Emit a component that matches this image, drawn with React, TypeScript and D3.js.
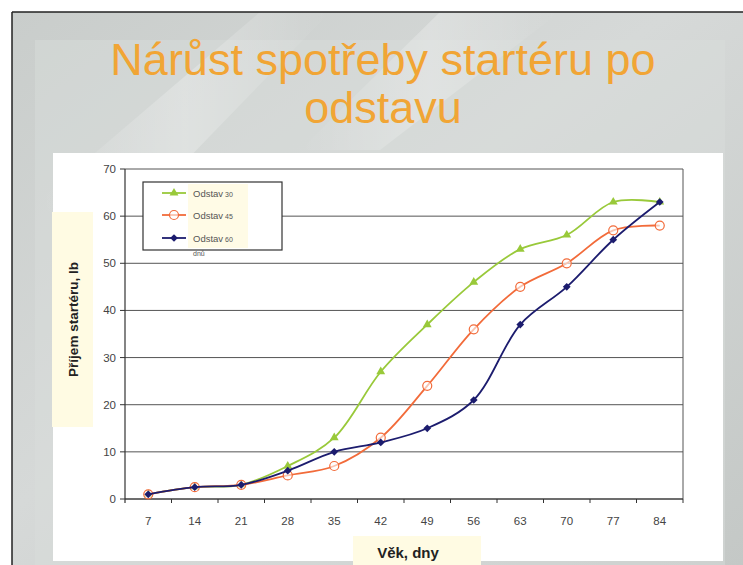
import React from 'react';
import * as d3 from 'd3';

// Věk (dny)
const days = ['7', '14', '21', '28', '35', '42', '49', '56', '63', '70', '77', '84'];
const yTicks = [0, 10, 20, 30, 40, 50, 60, 70];

// Příjem startéru (lb)
const odstav30 = [1, 2.5, 3, 7, 13, 27, 37, 46, 53, 56, 63, 63];
const odstav45 = [1, 2.5, 3, 5, 7, 13, 24, 36, 45, 50, 57, 58];
const odstav60 = [1, 2.5, 3, 6, 10, 12, 15, 21, 37, 45, 55, 63];

const seriesNames = ['Odstav 30', 'Odstav 45', 'Odstav 60'];

const W = 743;
const H = 565;
const plot = { left: 125, right: 683, top: 169, bottom: 499 };
const font = '"Liberation Sans", Arial, sans-serif';

export default function App() {
  const x = d3.scaleBand<string>().domain(days).range([plot.left, plot.right]);
  const y = d3.scaleLinear().domain([0, 70]).range([plot.bottom, plot.top]);
  const cx = (d: string) => (x(d) ?? 0) + x.bandwidth() / 2;

  const line = d3
    .line<number>()
    .x((_, i) => cx(days[i]))
    .y(v => y(v))
    .curve(d3.curveCatmullRom.alpha(0.5));

  const series = [
    { name: seriesNames[0], values: odstav30, color: '#99c93a', marker: 'triangle' },
    { name: seriesNames[1], values: odstav45, color: '#f26b3a', marker: 'circle' },
    { name: seriesNames[2], values: odstav60, color: '#1c1c6e', marker: 'diamond' },
  ];

  const marker = (kind: string, px: number, py: number, color: string, key: string) => {
    if (kind === 'triangle') {
      const p = d3.symbol(d3.symbolTriangle, 34)();
      return <path key={key} d={p ?? ''} transform={`translate(${px},${py})`} fill={color} />;
    }
    if (kind === 'circle') {
      return <circle key={key} cx={px} cy={py} r={4.5} fill="#fff" fillOpacity={0.6} stroke={color} strokeWidth={1.2} />;
    }
    const p = d3.symbol(d3.symbolSquare, 30)();
    return <path key={key} d={p ?? ''} transform={`translate(${px},${py}) rotate(45)`} fill={color} />;
  };

  const legendY = [193, 215, 238];

  return (
    <svg width={W} height={H} style={{ position: 'absolute', left: 0, top: 0 }} fontFamily={font}>
      <defs>
        <linearGradient id="bg" x1="0" y1="0" x2="1" y2="1">
          <stop offset="0" stopColor="#c9cdcb" />
          <stop offset="0.45" stopColor="#d6d9d8" />
          <stop offset="1" stopColor="#c4c8c6" />
        </linearGradient>
        <linearGradient id="streak" x1="0" y1="0" x2="1" y2="0">
          <stop offset="0" stopColor="#ffffff" stopOpacity={0} />
          <stop offset="0.5" stopColor="#ffffff" stopOpacity={0.25} />
          <stop offset="1" stopColor="#ffffff" stopOpacity={0} />
        </linearGradient>
      </defs>
      <rect x={0} y={0} width={W} height={H} fill="#fff" />
      <rect x={12} y={12} width={W - 12} height={H - 12} fill="url(#bg)" />
      <rect x={35} y={40} width={690} height={H - 40} fill="#dadddc" opacity={0.45} />
      <path d="M 40 200 L 260 12 L 330 12 L 90 260 Z" fill="url(#streak)" />
      <path d="M 440 12 L 560 12 L 380 150 L 300 150 Z" fill="url(#streak)" />
      <line x1={12} y1={12} x2={W} y2={12} stroke="#222" strokeWidth={1.5} />
      <line x1={12} y1={12} x2={12} y2={H} stroke="#222" strokeWidth={1.5} />

      {/* title */}
      <text x={383} y={75} textAnchor="middle" fontSize={45} fill="#f1a535">
        Nárůst spotřeby startéru po
      </text>
      <text x={383} y={123} textAnchor="middle" fontSize={45} fill="#f1a535">
        odstavu
      </text>

      {/* white chart panel */}
      <rect x={53} y={153} width={670} height={408} fill="#ffffff" />

      {/* gridlines */}
      {yTicks.map(t => (
        <line key={`g${t}`} x1={plot.left} x2={plot.right} y1={y(t)} y2={y(t)} stroke="#555" strokeWidth={1} />
      ))}
      <line x1={plot.right} x2={plot.right} y1={plot.top} y2={plot.bottom} stroke="#555" strokeWidth={1} />

      {/* y axis */}
      <line x1={plot.left} x2={plot.left} y1={plot.top} y2={plot.bottom + 4} stroke="#333" strokeWidth={1.2} />
      {yTicks.map(t => (
        <g key={`y${t}`}>
          <line x1={plot.left - 5} x2={plot.left} y1={y(t)} y2={y(t)} stroke="#333" />
          <text x={plot.left - 9} y={y(t) + 4} textAnchor="end" fontSize={11.5} fill="#444">
            {t}
          </text>
        </g>
      ))}

      {/* x axis */}
      <line x1={plot.left} x2={plot.right} y1={plot.bottom} y2={plot.bottom} stroke="#333" strokeWidth={1.2} />
      {days.map((d, i) => (
        <g key={`x${d}`}>
          <line
            x1={(x(d) ?? 0) + x.bandwidth()}
            x2={(x(d) ?? 0) + x.bandwidth()}
            y1={plot.bottom}
            y2={plot.bottom + 4}
            stroke="#333"
          />
          <text x={cx(d)} y={plot.bottom + 26} textAnchor="middle" fontSize={11.5} fill="#444">
            {days[i]}
          </text>
        </g>
      ))}

      {/* series */}
      {series.map(s => (
        <g key={s.name}>
          <path d={line(s.values) ?? ''} fill="none" stroke={s.color} strokeWidth={1.8} />
          {s.values.map((v, i) => marker(s.marker, cx(days[i]), y(v), s.color, `${s.name}-${i}`))}
        </g>
      ))}

      {/* legend */}
      <rect x={143} y={182} width={139} height={68} fill="#fff" stroke="#333" strokeWidth={1.2} />
      <rect x={188} y={184} width={60} height={64} fill="#fffbe6" />
      {series.map((s, i) => (
        <g key={`l${s.name}`}>
          <line x1={162} x2={186} y1={legendY[i]} y2={legendY[i]} stroke={s.color} strokeWidth={1.8} />
          {marker(s.marker, 174, legendY[i], s.color, `lm${i}`)}
          <text x={193} y={legendY[i] + 4} fontSize={9.5} fill="#555">
            {s.name.split(' ')[0]}
            <tspan fontSize={7}> {s.name.split(' ')[1]}</tspan>
          </text>
        </g>
      ))}
      <text x={193} y={256} fontSize={7} fill="#555">
        dnů
      </text>

      {/* axis titles */}
      <rect x={52} y={212} width={41} height={215} fill="#fffbe3" />
      <text
        transform={`translate(78,${(212 + 427) / 2}) rotate(-90)`}
        textAnchor="middle"
        fontSize={13.5}
        fontWeight="bold"
        fill="#222"
      >
        Příjem startéru, lb
      </text>
      <rect x={353} y={536} width={128} height={29} fill="#fffbe3" />
      <text x={408} y={558} textAnchor="middle" fontSize={15} fontWeight="bold" fill="#222">
        Věk, dny
      </text>
    </svg>
  );
}
